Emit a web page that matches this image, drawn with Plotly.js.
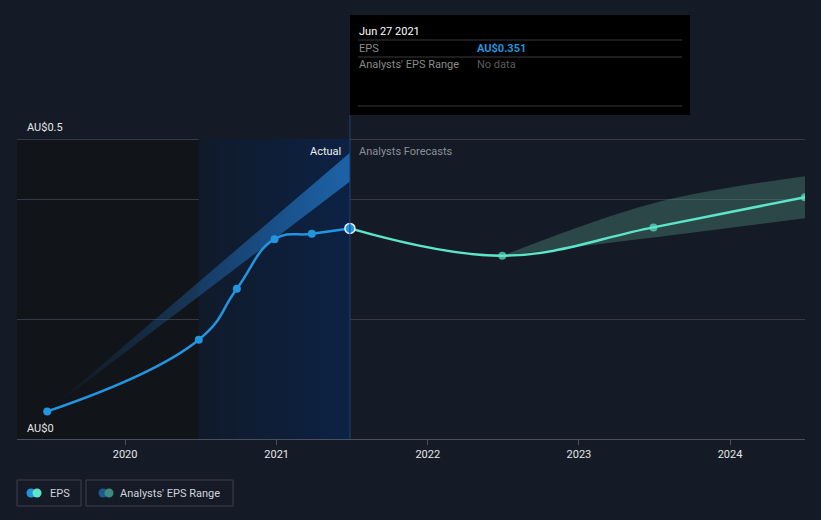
<!DOCTYPE html>
<html>
<head>
<meta charset="utf-8">
<script src="https://cdn.plot.ly/plotly-3.0.1.min.js"></script>
<style>html,body{margin:0;padding:0;background:#151b26;}#chart{width:821px;height:520px;}</style>
</head>
<body>
<div id="chart"></div>
<script>
// ---- data ----
const pastDates = ['2019-06-27','2020-06-27','2020-09-27','2020-12-27','2021-03-27','2021-06-27'];
const pastEPS = [0.046, 0.1655, 0.2505, 0.333, 0.342, 0.351];
const fcDates = ['2021-06-27','2022-06-30','2023-06-30','2024-06-30'];
const fcEPS = [0.351, 0.3055, 0.3527, 0.403];
const fcRangeDates = ['2022-06-30','2023-06-30','2024-06-30'];
const fcHigh = [0.3055, 0.393, 0.438];
const fcLow = [0.3055, 0.336, 0.368];
const pastRangeDates = ['2019-06-27','2021-06-27'];
const pastHigh = [0.046, 0.477];
const pastLow = [0.046, 0.429];
const yearTicks = ['2020-01-01','2021-01-01','2022-01-01','2023-01-01','2024-01-01'];
const yearLabels = ['2020','2021','2022','2023','2024'];
const actualDate = '2021-06-27';
const pastStart = '2020-06-27';

// ---- layout helpers (pixel -> paper) ----
const L = 17, R = 805, T = 133, B = 439;
const px = x => (x - L) / (R - L);
const py = y => (B - y) / (B - T);
const font = 'Roboto, "Open Sans", sans-serif';

const traces = [
  // blue gradient background of last-year region
  {x:[pastStart, actualDate, actualDate, pastStart, pastStart], y:[0,0,0.5,0.5,0], mode:'none', fill:'toself',
   fillgradient:{type:'horizontal', colorscale:[[0,'#101a2a'],[1,'#0c2244']]}, hoverinfo:'skip', showlegend:false},
  // past range band
  {x:pastRangeDates, y:pastLow, mode:'lines', line:{width:0, color:'rgba(0,0,0,0)'}, hoverinfo:'skip', showlegend:false},
  {x:pastRangeDates, y:pastHigh, mode:'lines', line:{width:0, color:'rgba(0,0,0,0)'}, fill:'tonexty',
   fillgradient:{type:'horizontal', colorscale:[[0,'rgba(30,100,170,0)'],[1,'rgba(32,110,185,0.85)']]}, hoverinfo:'skip', showlegend:false},
  // forecast range band
  {x:fcRangeDates, y:fcLow, mode:'lines', line:{width:0, shape:'spline', color:'rgba(0,0,0,0)'}, hoverinfo:'skip', showlegend:false},
  {x:fcRangeDates, y:fcHigh, mode:'lines', line:{width:0, shape:'spline', color:'rgba(0,0,0,0)'}, fill:'tonexty',
   fillcolor:'rgba(87,161,144,0.33)', hoverinfo:'skip', showlegend:false},
  // forecast line
  {x:fcDates, y:fcEPS, mode:'lines+markers', line:{color:'#5ce5c9', width:2.5, shape:'spline', smoothing:1.1},
   marker:{size:[0,8,8,8], color:'#5ce5c9', line:{width:0}}, hoverinfo:'skip', showlegend:false},
  // past line
  {x:pastDates, y:pastEPS, mode:'lines+markers', line:{color:'#2394df', width:2.5, shape:'spline', smoothing:1.3},
   marker:{size:8, color:'#2394df', line:{width:0}}, hoverinfo:'skip', showlegend:false},
  // highlighted point
  {x:[actualDate], y:[pastEPS[pastEPS.length-1]], mode:'markers', marker:{size:10, color:'#2394df', line:{color:'#e8f0ff', width:1.5}},
   hoverinfo:'skip', showlegend:false}
];

const shapes = [
  {type:'rect', xref:'x', yref:'y', x0:'2019-01-01', x1:pastStart, y0:0, y1:0.5, fillcolor:'#111419', line:{width:0}, layer:'below'},
  {type:'line', xref:'x', yref:'paper', x0:actualDate, x1:actualDate, y0:0, y1:py(115), line:{color:'#1c4377', width:1}},
  // tooltip
  {type:'rect', xref:'paper', yref:'paper', x0:px(350), x1:px(690), y0:py(115), y1:py(15), fillcolor:'#000000', line:{width:0}},
  {type:'line', xref:'paper', yref:'paper', x0:px(358), x1:px(682), y0:py(40), y1:py(40), line:{color:'#3a3a3a', width:1}},
  {type:'line', xref:'paper', yref:'paper', x0:px(358), x1:px(682), y0:py(57), y1:py(57), line:{color:'#3a3a3a', width:1}},
  {type:'line', xref:'paper', yref:'paper', x0:px(358), x1:px(682), y0:py(106), y1:py(106), line:{color:'#3a3a3a', width:1}},
  // legend boxes
  {type:'rect', xref:'paper', yref:'paper', x0:px(17), x1:px(81), y0:py(506), y1:py(480), line:{color:'#3c414c', width:1}},
  {type:'rect', xref:'paper', yref:'paper', x0:px(86), x1:px(233), y0:py(506), y1:py(480), line:{color:'#3c414c', width:1}},
  {type:'circle', xref:'paper', yref:'paper', x0:px(26.5), x1:px(35.5), y0:py(497.5), y1:py(488.5), fillcolor:'#2394df', line:{width:0}},
  {type:'circle', xref:'paper', yref:'paper', x0:px(32.5), x1:px(41.5), y0:py(497.5), y1:py(488.5), fillcolor:'#5ce5c9', line:{width:0}},
  {type:'circle', xref:'paper', yref:'paper', x0:px(98.5), x1:px(107.5), y0:py(497.5), y1:py(488.5), fillcolor:'#1d5a8e', line:{width:0}},
  {type:'circle', xref:'paper', yref:'paper', x0:px(104.5), x1:px(113.5), y0:py(497.5), y1:py(488.5), fillcolor:'#3c8a80', line:{width:0}}
];

const ann = (text, x, y, opts={}) => Object.assign({text, xref:'paper', yref:'paper', x:px(x), y:py(y), xanchor:'left', yanchor:'middle',
  showarrow:false, font:{family:font, size:11, color:'#e6e6e6'}}, opts);

const annotations = [
  ann('AU$0.5', 25, 127),
  ann('AU$0', 25, 428),
  {text:'Actual', xref:'x', yref:'paper', x:actualDate, y:py(151), xanchor:'right', yanchor:'middle', xshift:-7, showarrow:false,
   font:{family:font, size:11, color:'#f0f0f0'}},
  {text:'Analysts Forecasts', xref:'x', yref:'paper', x:actualDate, y:py(151), xanchor:'left', yanchor:'middle', xshift:7, showarrow:false,
   font:{family:font, size:11, color:'#8a8f99'}},
  ann('Jun 27 2021', 357, 31, {font:{family:font, size:11, color:'#ffffff'}}),
  ann('EPS', 357, 48, {font:{family:font, size:11, color:'#8a8a8a'}}),
  ann('<b>AU$0.351</b>', 475, 48, {font:{family:font, size:11, color:'#2394df'}}),
  ann("Analysts' EPS Range", 357, 65, {font:{family:font, size:11, color:'#8a8a8a'}}),
  ann('No data', 475, 65, {font:{family:font, size:11, color:'#5c5c5c'}}),
  ann('EPS', 48, 493, {font:{family:font, size:11, color:'#d0d3d8'}}),
  ann("Analysts' EPS Range", 118, 493, {font:{family:font, size:11, color:'#d0d3d8'}})
];

const layout = {
  width:821, height:520,
  margin:{l:L, r:821-R, t:T, b:520-B, pad:0},
  paper_bgcolor:'#151b26', plot_bgcolor:'#151b26',
  showlegend:false, hovermode:false,
  font:{family:font, size:11, color:'#e6e6e6'},
  xaxis:{type:'date', range:['2019-04-15','2024-06-30'], tickvals:yearTicks, ticktext:yearLabels,
    showgrid:false, zeroline:false, showline:true, linecolor:'#4a4f5a', linewidth:1,
    ticks:'outside', ticklen:5, tickcolor:'#4a4f5a', tickfont:{family:font, size:11, color:'#e6e6e6'}, fixedrange:true},
  yaxis:{range:[0,0.51], tickvals:[0.2,0.4,0.5], showticklabels:false, showgrid:true, gridcolor:'#353a46', gridwidth:1,
    zeroline:false, showline:false, fixedrange:true},
  shapes, annotations
};

Plotly.newPlot('chart', traces, layout, {displayModeBar:false, staticPlot:true});
</script>
</body>
</html>
